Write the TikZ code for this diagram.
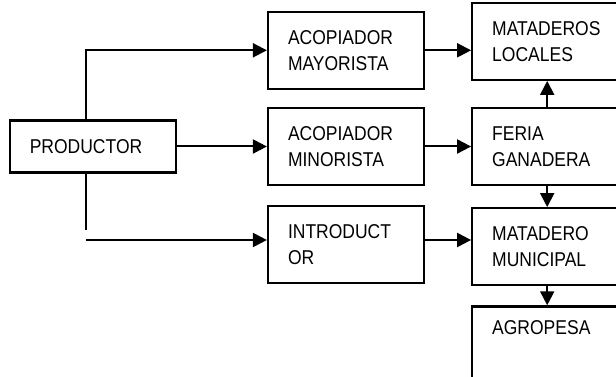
\documentclass[tikz,border=0pt]{standalone}
\usepackage{fontspec}
\setmainfont{Liberation Sans}[FakeStretch=0.875]
\usetikzlibrary{positioning,arrows.meta}
\tikzset{
  block/.style={draw, line width=2.2pt, rectangle, text width=116pt, inner xsep=20pt, minimum height=77pt, align=left, font=\fontsize{20}{26}\selectfont},
  blockWide/.style={block, text width=126pt, minimum height=52pt},
  blockTall/.style={block, inner ysep=14pt, text depth=90pt},
  arrow/.style={-{Triangle[length=14pt, width=14pt]}, line width=2pt}
}

\begin{document}
\begin{tikzpicture}[x=1pt, y=1pt]
  \clip (0,0) rectangle (616,-377);
  \node[block] (minor) at (346,-146.5) {ACOPIADOR\\MINORISTA};
  \node[block, above=17pt of minor] (mayor) {ACOPIADOR\\MAYORISTA};
  \node[block, below=19pt of minor] (intro) {INTRODUCT\\OR};
  \node[block, right=46pt of minor] (feria) {FERIA\\GANADERA};
  \node[block, above=26pt of feria] (locales) {MATADEROS\\LOCALES};
  \node[block, below=21pt of feria] (municipal) {MATADERO\\MUNICIPAL};
  \node[blockTall, below=19pt of municipal] (agro) {AGROPESA};
  \node[blockWide, left=90pt of minor] (prod) {PRODUCTOR};

  \coordinate (split) at (86,-230);
  \coordinate (bend) at (86,-240);

  \draw[arrow] (split |- prod.north) |- (mayor.west);
  \draw[arrow] (prod.east) -- (prod.east -| minor.west);
  \draw[line width=2pt] (split |- prod.south) -- (split);
  \draw[arrow] (bend) -- (bend -| intro.west);

  \draw[arrow] (mayor.east) -- (mayor.east -| locales.west);
  \draw[arrow] (minor.east) -- (minor.east -| feria.west);
  \draw[arrow] (bend -| intro.east) -- (bend -| municipal.west);
  \draw[arrow] ([xshift=-3pt]feria.north) -- ([xshift=-3pt]locales.south);
  \draw[arrow] ([xshift=-3pt]feria.south) -- ([xshift=-3pt]municipal.north);
  \draw[arrow] ([xshift=-3pt]municipal.south) -- ([xshift=-3pt]agro.north);
\end{tikzpicture}
\end{document}
